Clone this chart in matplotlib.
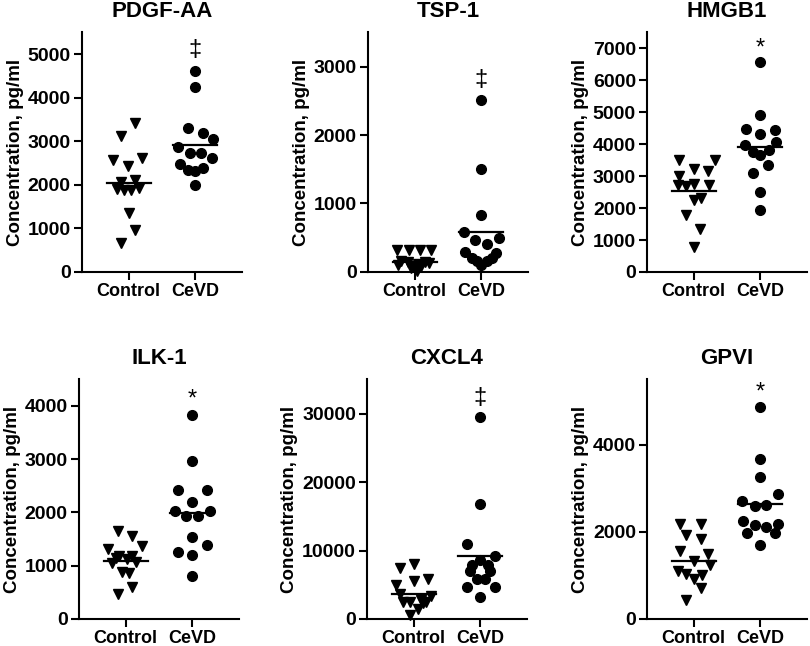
import matplotlib.pyplot as plt

plt.rcParams["font.family"] = ["Liberation Sans", "DejaVu Sans"]
plt.rcParams["font.weight"] = "bold"

groups = ["Control", "CeVD"]
titles = ["PDGF-AA", "TSP-1", "HMGB1", "ILK-1", "CXCL4", "GPVI"]
marks = ["\u2021", "\u2021", "*", "*", "\u2021", "*"]

# PDGF-AA
pdgf_control = [3409, 3116, 2562, 2617, 2440, 2054, 2116, 1902, 1870, 1870, 1916, 1362, 962, 669]
pdgf_control_jitter = [0.1, -0.12, -0.23, 0.2, -0.01, -0.12, 0.1, -0.18, -0.07, 0.04, 0.15, 0.0, 0.1, -0.12]
pdgf_cevd = [4616, 4256, 3294, 3194, 3040, 2862, 2733, 2733, 2617, 2486, 2331, 2308, 2386, 2001]
pdgf_cevd_jitter = [0.0, 0.0, -0.11, 0.11, 0.26, -0.26, -0.08, 0.08, 0.25, -0.23, -0.11, 0.0, 0.12, 0.0]
pdgf_means = [2040, 2917]

# TSP-1
tsp_control = [315, 315, 315, 315, 160, 150, 140, 130, 110, 100, 80, 60, 40, 15]
tsp_control_jitter = [-0.26, -0.09, 0.08, 0.25, -0.2, 0.15, -0.1, 0.22, 0.05, -0.25, 0.1, -0.05, 0.0, 0.03]
tsp_cevd = [2510, 1505, 829, 588, 466, 403, 491, 294, 279, 206, 157, 109, 157, 206]
tsp_cevd_jitter = [0.0, 0.0, 0.0, -0.26, -0.09, 0.085, 0.26, -0.24, 0.22, -0.14, -0.065, 0.0, 0.085, 0.16]
tsp_means = [143, 583]

# HMGB1
hmgb_control = [3516, 3516, 3223, 3170, 2990, 2720, 2700, 2760, 2720, 2257, 2310, 1785, 1344, 787]
hmgb_control_jitter = [-0.22, 0.32, 0.0, 0.21, -0.22, -0.24, -0.12, 0.0, 0.23, 0.0, 0.11, -0.11, 0.09, 0.0]
hmgb_cevd = [6580, 4911, 4482, 4429, 4303, 3988, 4061, 3758, 3673, 3809, 3337, 3097, 2487, 1933]
hmgb_cevd_jitter = [0.0, 0.0, -0.21, 0.22, 0.0, -0.23, 0.24, -0.11, 0.0, 0.13, 0.11, -0.11, 0.0, 0.0]
hmgb_means = [2531, 3916]

# ILK-1
ilk_control = [1644, 1549, 1321, 1371, 1181, 1190, 1150, 1120, 1075, 1060, 878, 860, 601, 474]
ilk_control_jitter = [-0.11, 0.1, -0.26, 0.25, -0.1, 0.09, -0.15, 0.02, 0.15, -0.2, -0.06, 0.05, 0.1, -0.11]
ilk_cevd = [3824, 2964, 2414, 2414, 2193, 2023, 2023, 1928, 1928, 1542, 1390, 1257, 1194, 803]
ilk_cevd_jitter = [0.0, 0.0, -0.21, 0.22, 0.0, -0.26, 0.26, -0.09, 0.08, 0.0, 0.22, -0.21, 0.0, 0.0]
ilk_means = [1087, 1991]

# CXCL4
cxcl_control = [8088, 7451, 5882, 5588, 5000, 3700, 3382, 2800, 2545, 2450, 2545, 2300, 1426, 588]
cxcl_control_jitter = [0.0, -0.21, 0.22, 0.0, -0.26, -0.2, 0.26, 0.11, -0.16, -0.06, 0.19, 0.14, 0.06, -0.05]
cxcl_cevd = [29515, 16765, 10882, 9166, 8676, 7941, 7941, 6960, 6960, 5882, 5882, 4656, 4656, 3186]
cxcl_cevd_jitter = [0.0, 0.0, -0.2, 0.22, 0.0, 0.12, -0.13, -0.15, 0.15, -0.05, 0.07, -0.2, 0.22, 0.0]
cxcl_means = [3676, 9265]

# GPVI
gpvi_control = [2173, 2173, 1919, 1826, 1557, 1503, 1325, 1248, 1094, 1040, 925, 1017, 709, 439]
gpvi_control_jitter = [-0.2, 0.11, -0.11, 0.11, -0.21, 0.22, 0.0, 0.25, -0.24, -0.11, 0.0, 0.12, 0.11, -0.11]
gpvi_cevd = [4871, 3676, 3267, 2867, 2712, 2597, 2613, 2250, 2173, 2150, 2120, 1981, 1965, 1688]
gpvi_cevd_jitter = [0.0, 0.0, 0.0, 0.26, -0.27, -0.08, 0.09, -0.26, 0.26, -0.08, 0.09, -0.2, 0.22, 0.0]
gpvi_means = [1325, 2636]

y_max = [5500, 3500, 7500, 4500, 35000, 5500]
y_step = [1000, 1000, 1000, 1000, 10000, 2000]
mark_y = [5100, 2800, 7000, 4130, 32300, 5200]

controls = [pdgf_control, tsp_control, hmgb_control, ilk_control, cxcl_control, gpvi_control]
control_jit = [pdgf_control_jitter, tsp_control_jitter, hmgb_control_jitter,
               ilk_control_jitter, cxcl_control_jitter, gpvi_control_jitter]
cevds = [pdgf_cevd, tsp_cevd, hmgb_cevd, ilk_cevd, cxcl_cevd, gpvi_cevd]
cevd_jit = [pdgf_cevd_jitter, tsp_cevd_jitter, hmgb_cevd_jitter,
            ilk_cevd_jitter, cxcl_cevd_jitter, gpvi_cevd_jitter]
means = [pdgf_means, tsp_means, hmgb_means, ilk_means, cxcl_means, gpvi_means]

# axes boxes in figure fractions
lefts = [0.1012, 0.4543, 0.7988, 0.0975, 0.4531, 0.7988]
bottoms = [0.579, 0.579, 0.579, 0.0418, 0.0418, 0.0418]
width = 0.1975
height = 0.371

fig = plt.figure(figsize=(8.1, 6.46), dpi=100)

for i in range(6):
    ax = fig.add_axes([lefts[i], bottoms[i], width, height])

    xc = [1 + j for j in control_jit[i]]
    xv = [2 + j for j in cevd_jit[i]]
    ax.plot(xc, controls[i], "v", color="black", ms=7, linestyle="none", clip_on=False)
    ax.plot(xv, cevds[i], "o", color="black", ms=7, linestyle="none", clip_on=False)

    for k, m in enumerate(means[i]):
        ax.plot([k + 1 - 0.33, k + 1 + 0.33], [m, m], color="black", lw=1.6)

    ax.text(2, mark_y[i], marks[i], ha="center", va="center",
            fontsize=17, fontweight="normal")

    ax.set_xlim(0.3, 2.7)
    ax.set_ylim(0, y_max[i])
    ax.set_yticks(range(0, y_max[i], y_step[i]))
    ax.set_xticks([1, 2])
    ax.set_xticklabels(groups, fontsize=13, fontweight="bold")
    for lab in ax.get_yticklabels():
        lab.set_fontsize(14)
        lab.set_fontweight("bold")

    ax.spines["top"].set_visible(False)
    ax.spines["right"].set_visible(False)
    ax.spines["left"].set_linewidth(1.5)
    ax.spines["bottom"].set_linewidth(1.5)
    ax.tick_params(axis="y", width=1.5, length=6, direction="out", pad=2)
    ax.tick_params(axis="x", width=1.5, length=6, direction="out", pad=2)

    ax.set_title(titles[i], fontsize=16, fontweight="bold", pad=11)
    ax.set_ylabel("Concentration, pg/ml", fontsize=13.5, fontweight="bold", labelpad=3)

fig.savefig("out.png", dpi=100)
